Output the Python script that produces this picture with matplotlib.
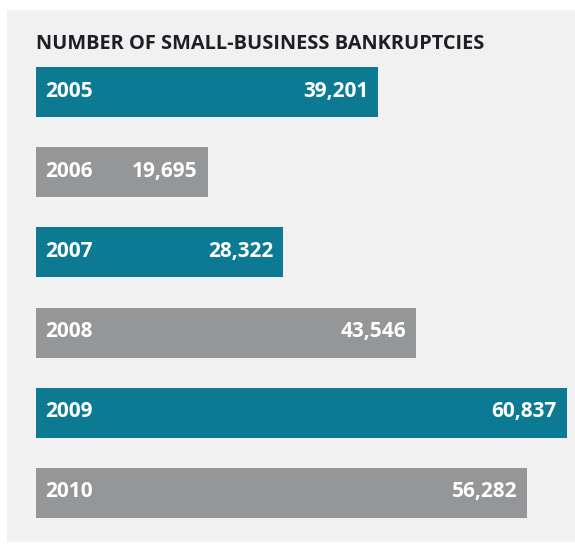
import matplotlib
matplotlib.use("Agg")
import matplotlib.pyplot as plt
from matplotlib.patches import Rectangle

# small-business bankruptcies per year
years = ["2005", "2006", "2007", "2008", "2009", "2010"]
counts = [39201, 19695, 28322, 43546, 60837, 56282]
bar_colors = ["#0c7a93", "#949697", "#0c7a93", "#949697", "#0c7a93", "#949697"]
title = "NUMBER OF SMALL-BUSINESS BANKRUPTCIES"

W, H = 575, 546
plt.rcParams["font.family"] = ["Open Sans", "DejaVu Sans"]

fig = plt.figure(figsize=(W / 100, H / 100), dpi=100)
fig.patch.set_facecolor("white")

# light grey panel behind everything
fig.patches.append(Rectangle((7 / W, 1 - 542 / H), (W - 7) / W, (542 - 10) / H,
                             transform=fig.transFigure, facecolor="#f1f1f1",
                             edgecolor="none", zorder=-5))

ax = fig.add_axes([36 / W, 1 - 518 / H, (567 - 36) / W, (518 - 67) / H])
ax.set_zorder(2)
ax.set_facecolor("none")
bh = 0.625
pos = list(range(len(years)))
ax.barh(pos, counts, height=bh, color=bar_colors, edgecolor="none")
ax.set_xlim(0, max(counts))
ax.set_ylim(len(years) - 1 + bh / 2, -bh / 2)
ax.axis("off")

for i, (yr, n) in enumerate(zip(years, counts)):
    ax.annotate(yr, (0, i), xytext=(9, 1), textcoords="offset pixels",
                ha="left", va="center", color="white", fontsize=15,
                fontweight="bold")
    ax.annotate(f"{n:,}", (n, i), xytext=(-10, 1), textcoords="offset pixels",
                ha="right", va="center", color="white", fontsize=15,
                fontweight="bold")

fig.text(36 / W, 1 - 49 / H, title, ha="left", va="baseline",
         fontsize=14.4, fontweight="bold", color="#1d1f24")

fig.savefig("out.png", dpi=100)
